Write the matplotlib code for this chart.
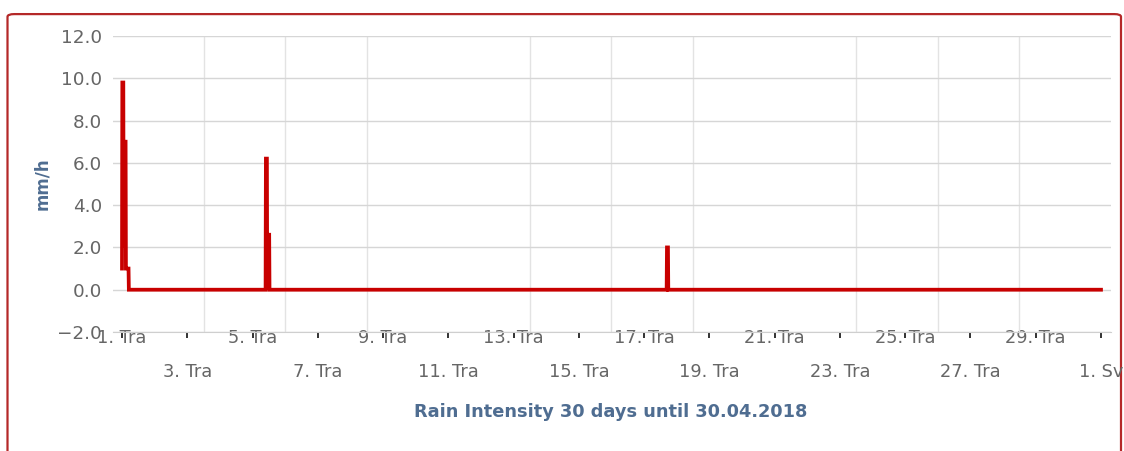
import matplotlib
matplotlib.use("Agg")
import matplotlib.pyplot as plt
from matplotlib.patches import FancyBboxPatch
import numpy as np

# rain intensity, days since 1 April 2018 (Tra = Travanj)
time_days = [0.00, 0.01, 0.04, 0.05, 0.07, 0.08, 0.11, 0.12, 0.13, 0.20, 0.21,
             4.40, 4.41, 4.44, 4.45, 4.46, 4.51, 4.52,
             16.69, 16.70, 16.73, 16.74,
             30.0]
rain_mmh = [1.0, 9.8, 9.8, 2.1, 2.1, 7.0, 7.0, 1.0, 1.0, 1.0, 0.0,
            0.0, 6.2, 6.2, 0.0, 2.6, 2.6, 0.0,
            0.0, 2.0, 2.0, 0.0,
            0.0]

tick_days = list(range(0, 31, 2))
tick_labels = [f"{d + 1}. Tra" for d in range(0, 30, 2)] + ["1. Sv"]
y_ticks = [-2, 0, 2, 4, 6, 8, 10, 12]

W, H = 1124, 451
fig = plt.figure(figsize=(W / 100, H / 100), dpi=100)
plt.rcParams["font.family"] = ["DejaVu Sans"]

# red rounded frame around the chart
frame = FancyBboxPatch((7.5 / W, -0.1), (1121 - 7.5) / W, (H + 45 - 14) / H,
                       boxstyle="round,pad=0,rounding_size=0.006",
                       transform=fig.transFigure, facecolor="white",
                       edgecolor="#b42828", linewidth=1.6, zorder=-5)
fig.patches.append(frame)

ax = fig.add_axes([113 / W, (H - 332) / H, (1111 - 113) / W, (332 - 36) / H])
ax.set_zorder(2)
ax.patch.set_alpha(0)

ax.plot(time_days, rain_mmh, color="#c80000", linewidth=2.7,
        solid_joinstyle="miter", zorder=3)

ax.set_xlim(-9 / 32.63, 30 + 10 / 32.63)
ax.set_ylim(-2, 12)

ax.set_yticks(y_ticks)
ax.set_yticklabels([f"{v:.1f}".replace("-", "\u2212") for v in y_ticks])
ax.grid(axis="y", color="#d6d6d6", linewidth=1)

ax.set_xticks(tick_days)
ax.set_xticklabels([lab if i % 2 == 0 else "\n" + lab
                    for i, lab in enumerate(tick_labels)])
ax.set_xticks(np.arange(0, 30.1, 2.5), minor=True)
ax.grid(axis="x", which="minor", color="#e3e3e3", linewidth=1)
ax.tick_params(axis="x", which="minor", length=0)
ax.tick_params(axis="x", which="major", length=4, width=1.3, color="#222222",
               direction="out", pad=-6, labelsize=12.8, labelcolor="#666666")
ax.tick_params(axis="y", length=0, pad=8, labelsize=13.2, labelcolor="#666666")
for lab in ax.get_xticklabels():
    lab.set_linespacing(2.15)

for s in ("top", "right", "left"):
    ax.spines[s].set_visible(False)
ax.spines["bottom"].set_color("#cfcfcf")
ax.set_axisbelow(True)

ax.set_ylabel("mm/h", fontsize=12, fontweight="bold", color="#4f6d91",
              labelpad=4)
fig.text(611 / W, 1 - 412 / H, "Rain Intensity 30 days until 30.04.2018",
         ha="center", va="center", fontsize=12.8, fontweight="bold",
         color="#4f6d91")

fig.savefig("out.png", dpi=100)
